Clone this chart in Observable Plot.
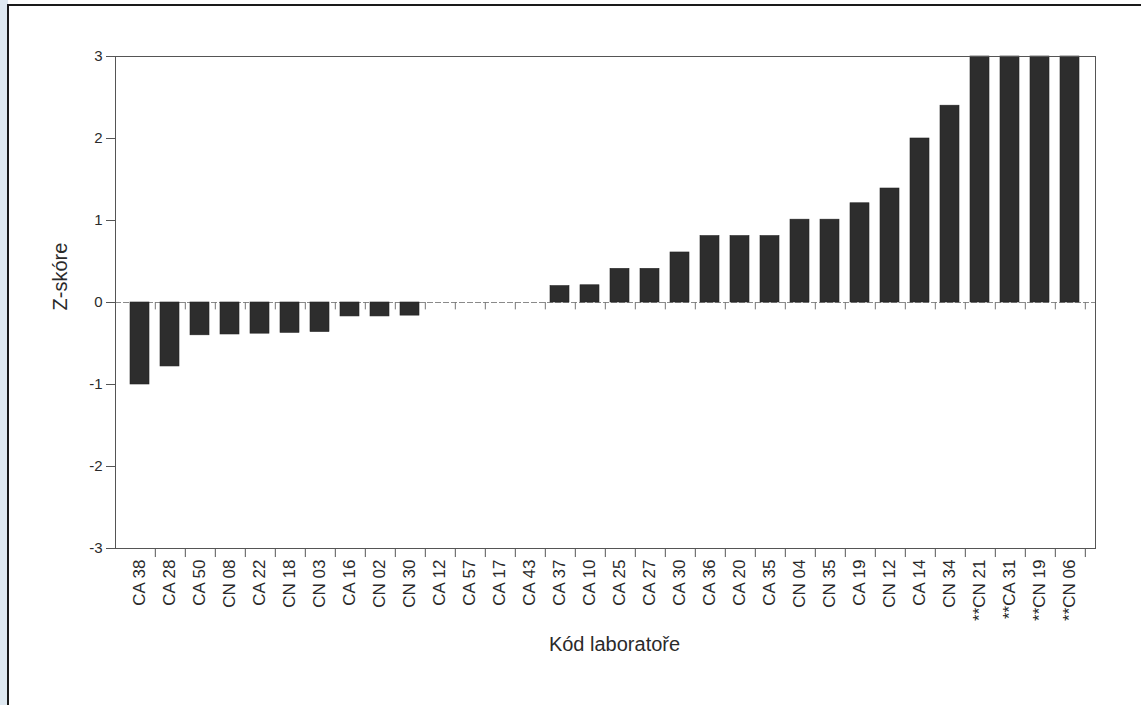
<!DOCTYPE html>
<html>
<head>
<meta charset="utf-8">
<script src="https://cdn.jsdelivr.net/npm/d3@7"></script>
<script src="https://cdn.jsdelivr.net/npm/@observablehq/plot@0.6"></script>
<style>
  html, body { margin: 0; padding: 0; background: #fff; }
  #wrap { position: relative; width: 1141px; height: 705px; overflow: hidden; }
  #strip { position: absolute; left: 0; top: 0; width: 8px; height: 705px; background: #dfe9f1; }
  #border { position: absolute; left: 7px; top: 4px; width: 1200px; height: 800px;
            border-left: 2px solid #1a1a1a; border-top: 2px solid #1a1a1a; }
  #chart { position: absolute; left: 0; top: 0; }
</style>
</head>
<body>
<div id="wrap">
  <div id="strip"></div>
  <div id="border"></div>
  <div id="chart"></div>
</div>
<script>
const codes = ["CA 38","CA 28","CA 50","CN 08","CA 22","CN 18","CN 03","CA 16","CN 02","CN 30",
  "CA 12","CA 57","CA 17","CA 43","CA 37","CA 10","CA 25","CA 27","CA 30","CA 36","CA 20","CA 35",
  "CN 04","CN 35","CA 19","CN 12","CA 14","CN 34","**CN 21","**CA 31","**CN 19","**CN 06"];
const zScores = [-1.0,-0.78,-0.4,-0.39,-0.38,-0.37,-0.36,-0.17,-0.17,-0.16,
  0,0,0,0,0.2,0.21,0.41,0.41,0.61,0.81,0.81,0.81,
  1.01,1.01,1.21,1.39,2.0,2.4,3,3,3,3];
const yTicks = [-3,-2,-1,0,1,2,3];
const yTitle = "Z-skóre";
const xTitle = "Kód laboratoře";

const data = codes.map((c, i) => ({code: c, z: zScores[i]}));

const W = 1141, H = 705, ML = 115, MR = 46, MT = 56, MB = 157;
const padIn = 0.36;
const step = (W - ML - MR) / codes.length;
const font = "'Liberation Sans', Arial, sans-serif";

const chart = Plot.plot({
  width: W, height: H,
  marginLeft: ML, marginRight: MR, marginTop: MT, marginBottom: MB,
  style: {fontFamily: font, color: "#2a2a2a", background: "transparent"},
  x: {type: "band", domain: codes, paddingInner: padIn, paddingOuter: padIn / 2, axis: null},
  y: {domain: [-3, 3], axis: null},
  marks: [
    Plot.ruleY([0], {stroke: "#8a8a8a", strokeWidth: 1, strokeDasharray: "6,2"}),
    Plot.barY(data, {x: "code", y: "z", fill: "#2d2d2d", stroke: "#222", strokeWidth: 0.6}),
    // ticks at category boundaries on zero line
    Plot.ruleX(codes, {x: d => d, y1: 0, y2: -0.09, dx: step / 2, stroke: "#777", strokeWidth: 1}),
    // ticks at category boundaries on bottom axis
    Plot.ruleX(codes, {x: d => d, y1: -3, y2: -3.11, dx: step / 2, stroke: "#555", strokeWidth: 1}),
    Plot.frame({stroke: "#555", strokeWidth: 1}),
    Plot.axisY({ticks: yTicks, tickFormat: d => String(d), tickSize: 9, tickPadding: 4,
      fontSize: 15, stroke: "#555", fill: "#2a2a2a", label: null}),
    Plot.axisX({tickSize: 0, tickPadding: 11, tickRotate: -90, fontSize: 17, fill: "#2a2a2a", label: null}),
    Plot.text([yTitle], {frameAnchor: "left", dx: -55, dy: 8, rotate: -90, fontSize: 20, fill: "#2a2a2a"}),
    Plot.text([xTitle], {frameAnchor: "bottom", dx: 9, dy: 102, fontSize: 20, fill: "#2a2a2a"})
  ]
});
document.getElementById("chart").appendChild(chart);
</script>
</body>
</html>
